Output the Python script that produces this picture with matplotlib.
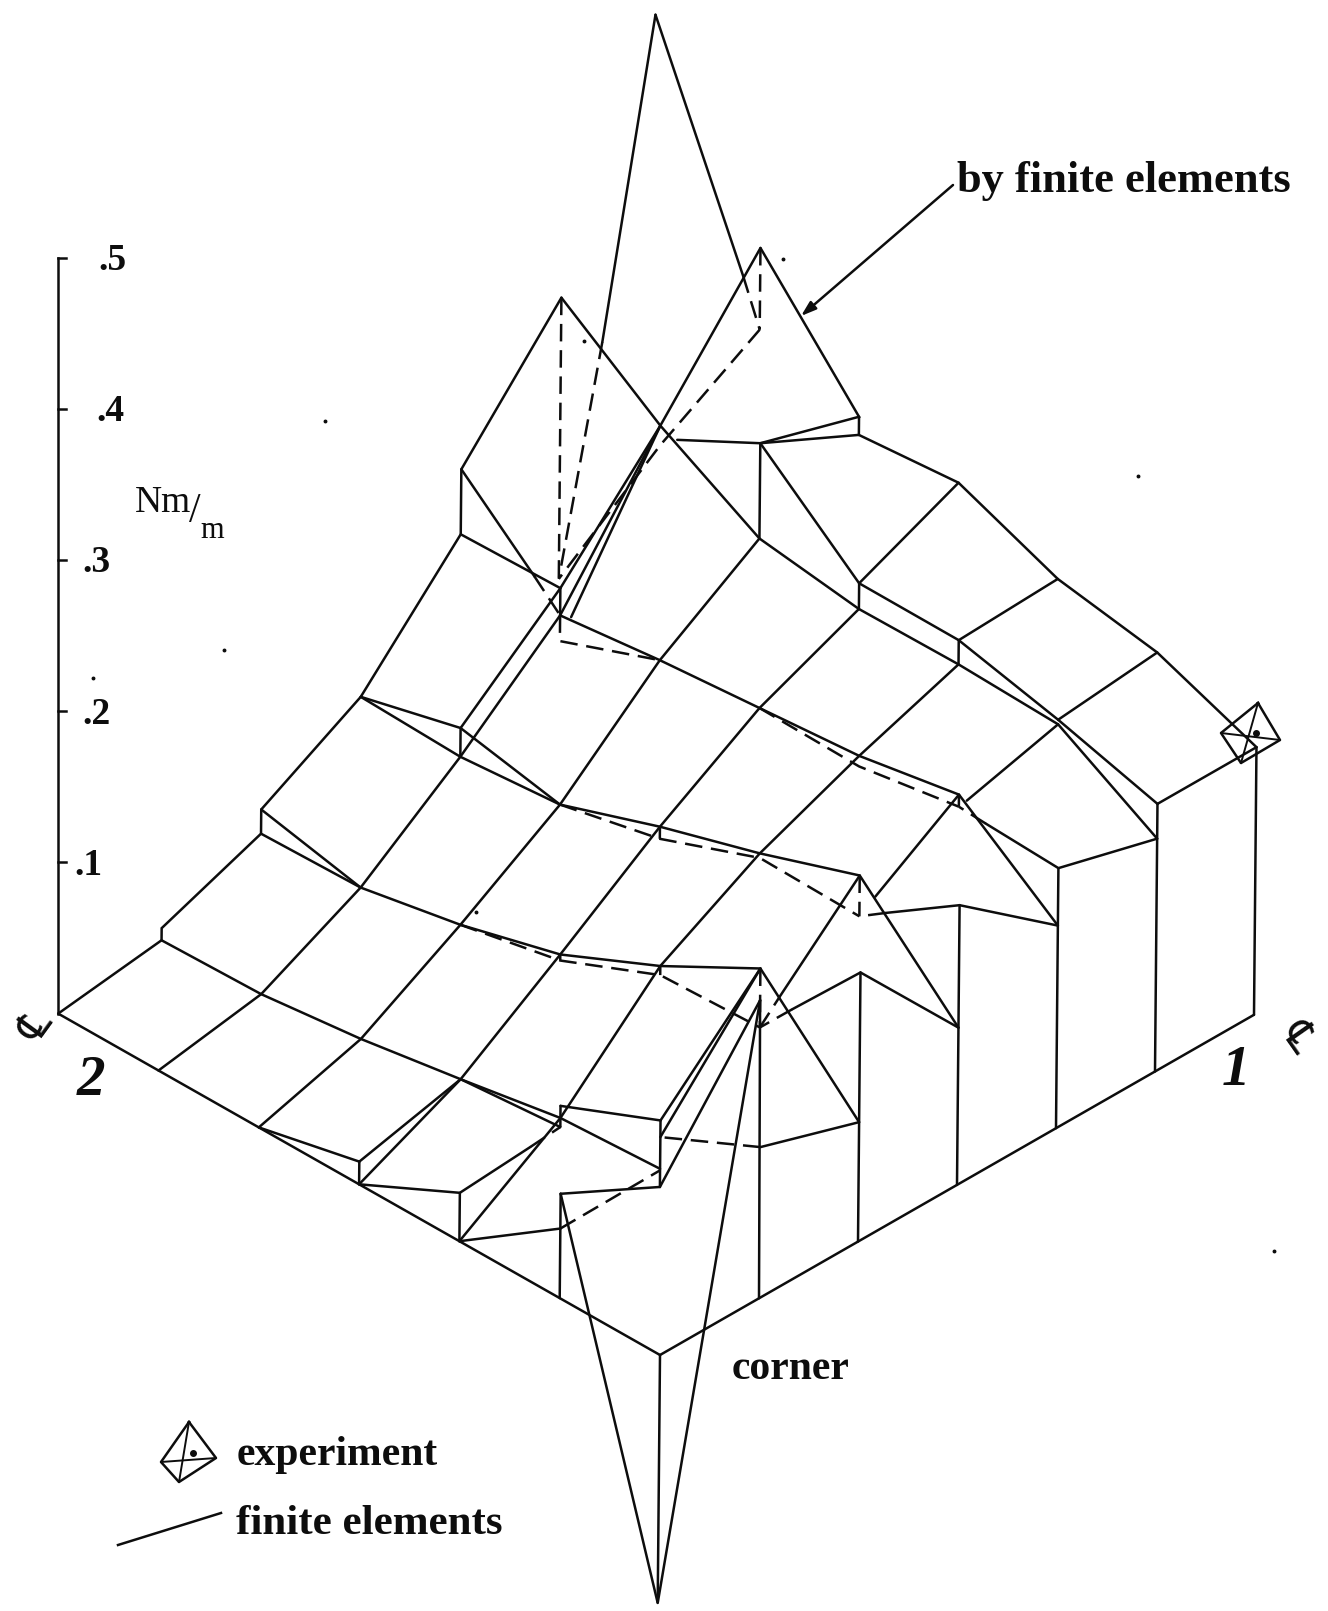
#!/usr/bin/env python3
"""Isometric wireframe of moment over a plate: finite elements vs experiment"""

import matplotlib
matplotlib.use("Agg")
import matplotlib.pyplot as plt

# every node is (i, j, z): grid position on the plate and moment in Nm/m
# i runs from the corner to the left, j from the corner to the right

# plate outline
plate_left = [(6, 0, 0), (5, 0, 0), (4, 0, 0), (3, 0, 0), (2, 0, 0), (1, 0, 0), (0, 0, 0)]
plate_right = [(0, 0, 0), (0, 1, 0), (0, 2, 0), (0, 3, 0), (0, 4, 0), (0, 5, 0), (0, 6, 0)]

# outer edges of the surface
edge_j0 = [(6, 0, 0), (6, 1, .011), (6, 1, .019), (6, 2, .044), (6, 2, .060), (6, 3, .097),
           (6, 4, .167), (6, 4, .210), (6, 5, .286)]
edge_j6 = [(0, 6, .177), (1, 6, .202), (2, 6, .213), (3, 6, .239), (4, 6, .233)]

# lines of constant i
i5_low = [(5, 0, 0), (5, 1, .013), (5, 2, .046), (5, 3, .095), (5, 4, .151), (5, 5, .239), (5, 6, .319)]
i5_up = [(5, 3, .114), (5, 4, .169), (5, 5, .239)]
i5_extra = [(4.89, 4, .154), (5, 5, .239)]
i4_low = [(4, 0, 0), (4, 1, .021), (4, 2, .059), (4, 3, .101), (4, 4, .159), (4, 5, .202)]
i4_a = [(5, 6, .319), (4, 6, .245), (4, 5, .265)]
i4_b = [(4, 6, .233), (4, 5, .265)]
i3_low = [(3, 0, .015), (3, 1, .032), (3, 2, .077), (3, 3, .124), (3, 4, .165), (3, 5, .193)]
i3_base = [(3, 0, 0), (3, 1, .032)]
i3_up = [(3, 5, .210), (3, 6, .239)]
i2_low = [(2, 0, 0), (2, 1, .044), (2, 2, .107), (2, 3, .144), (2, 4, .171), (2, 5, .194)]
i2_up = [(2, 5, .210), (2, 6, .213)]
i1_a = [(1, 1, .080), (1, 2, .143)]
i1_b = [(1, 1, .069), (1, 2, .143)]
i1_c = [(1, 0, .069), (1, 1, .036), (1, 2, .122)]
i1_d = [(1, 2.2, .117), (1, 3, .167)]
i1_e = [(1, 3.16, .147), (1, 4, .183)]
i1_f = [(1, 4.08, .176), (1, 5, .192)]
i1_g = [(1, 5, .195), (1, 6, .202)]
i0_a = [(0, 6, .177), (0, 5, .177)]
i0_b = [(0, 5, .154), (0, 4, .172), (.73, 4, .174)]
i0_c = [(0, 4, .134), (0, 3, .185), (.74, 3, .152)]
i0_d = [(0, 3, .104), (0, 2, .178), (.68, 2, .128)]
i0_e = [(0, 2, .079), (0, 1, .100)]

# lines of constant j
j0_a = [(4, 0, 0), (3, 0, .015)]
j0_b = [(3, 0, 0), (2, 0, .032), (2, .7, .036)]
j0_c = [(2, 0, 0), (1, 0, .046)]
j1_low = [(6, 1, .011), (5, 1, .013), (4, 1, .021), (3, 1, .032), (2, 1, .044), (1, 1, .048)]
j1_b = [(3, 1, .032), (2, 1, .038)]
j1_up = [(2, 1, .052), (1, 1, .080)]
j2_up = [(6, 2, .060), (5, 2, .046), (4, 2, .059), (3, 2, .077), (2, 2, .107), (1, 2, .143), (0, 2, .079)]
j2_low = [(6, 2, .044), (5, 2, .046)]
j3_up = [(6, 3, .097), (5, 3, .114), (4, 3, .101), (3, 3, .124), (2, 3, .144), (1, 3, .167), (0, 3, .104)]
j3_low = [(6, 3, .097), (5, 3, .095), (4, 3, .101)]
j4_a = [(6, 4, .167), (5, 4, .169)]
j4_b = [(6, 4, .210), (5.26, 4, .167)]
j4_low = [(5, 4, .151), (4, 4, .159), (3, 4, .165), (2, 4, .171), (1, 4, .183), (0, 4, .134)]
j5_low = [(6, 5, .286), (5, 5, .239), (4, 5, .202), (3, 5, .193), (2, 5, .194), (1, 5, .192), (0, 5, .154)]
j5_up = [(4.83, 5, .236), (4, 5, .265), (3, 5, .210), (2, 5, .210), (1, 5, .195), (0, 5, .177)]

# vertical steps and the columns along the right side
steps = [(5, 3, .095, .114), (5, 4, .151, .169), (4, 5, .202, .265), (4, 6, .233, .245),
         (3, 5, .193, .210), (2, 5, .194, .210), (2, 1, .044, .052), (1, 1, .036, .080),
         (3, 0, 0, .015), (2, 0, 0, .032), (1, 0, 0, .069),
         (0, 2, 0, .178), (0, 3, 0, .185), (0, 4, 0, .172), (0, 5, 0, .177), (0, 6, 0, .177),
         (0, 0, -.164, 0)]
col_j1 = [(0, 1, 0), (1, 2, .122)]

# spikes at the two corners on the diagonal
spike_front = [(1, 0, .069), (0, 0, -.164), (1, 2, .122)]
spike_back_a = [(6.07, 6, .433), (6, 5.42, .241)]
spike_back_b = [(6.07, 6, .433), (5.17, 6, .294)]

solid_lines = [plate_left, plate_right, edge_j0, edge_j6, i5_low, i5_up, i5_extra, i4_low, i4_a, i4_b,
               i3_low, i3_base, i3_up, i2_low, i2_up, i1_a, i1_b, i1_c, i1_d, i1_e, i1_f, i1_g,
               i0_a, i0_b, i0_c, i0_d, i0_e, j0_a, j0_b, j0_c, j1_low, j1_b, j1_up, j2_up, j2_low,
               j3_up, j3_low, j4_a, j4_b, j4_low, j5_low, j5_up, col_j1, spike_front, spike_back_a,
               spike_back_b]

# hidden part, drawn dashed
hid_j2 = [(4, 2, .059), (3, 2, .073), (2, 2, .101), (1, 2, .104)]
hid_j3 = [(4, 3, .101), (3, 3, .116), (2, 3, .141), (1, 3, .140)]
hid_j4 = [(3, 4, .165), (2, 4, .164), (1, 4, .175)]
hid_j4_left = [(5, 4, .151), (5, 4, .134), (4, 4, .159)]
hid_i5 = [(5, 6, .265), (5, 5, .226), (6, 5, .100)]
hid_back_a = [(6, 5.42, .241), (6, 5, .100)]
hid_back_b = [(5.17, 6, .294), (5, 6, .265)]
hid_peak_a = [(6, 5, .286), (6, 5, .100)]
hid_peak_b = [(5, 6, .319), (5, 6, .265)]
hid_j4_b = [(5.26, 4, .167), (5, 4, .151)]
hid_i0_b = [(.73, 4, .174), (1, 4, .175)]
hid_i0_c = [(.74, 3, .152), (1, 3, .140)]
hid_i0_d = [(.68, 2, .128), (1, 2, .104)]
hid_i0_e = [(0, 1, .100), (1, 1, .069)]
hid_i1_a = [(1, 0, .046), (1, 1, .047)]
hid_i1_b = [(1, 2, .104), (1, 2.2, .117)]
hid_i2 = [(2, .7, .036), (2, 1, .038)]
hid_tick_a = [(1, 2, .143), (1, 2, .104)]
hid_tick_b = [(1, 3, .167), (1, 3, .140)]
hid_tick_c = [(1, 4, .183), (1, 4, .175)]
hid_tick_d = [(2, 2, .107), (2, 2, .101)]
hid_tick_e = [(3, 3, .124), (3, 3, .116)]
hid_tick_f = [(3, 2, .077), (3, 2, .073)]
hid_tick_g = [(2, 1, .044), (2, 1, .038)]

dashed_lines = [hid_j2, hid_j3, hid_j4, hid_j4_left, hid_i5, hid_back_a, hid_back_b, hid_peak_a,
                hid_peak_b, hid_j4_b, hid_i0_b, hid_i0_c, hid_i0_d, hid_i0_e, hid_i1_a, hid_i1_b,
                hid_i2, hid_tick_a, hid_tick_b, hid_tick_c, hid_tick_d, hid_tick_e, hid_tick_f,
                hid_tick_g]

z_ticks = [.1, .2, .3, .4, .5]
z_tick_labels = ['.1', '.2', '.3', '.4', '.5']

# the octahedron marks: top, right, bottom, left, inner dot (pixels around the centre)
point_mark_x = [9, 31, -8, -28, 7]
point_mark_y = [-37, 0, 23, -7, -7]
legend_mark_x = [3, 30, -7, -25, 7]
legend_mark_y = [-37, -1, 23, 3, -6]

specks_x = [325, 224, 93, 1138, 1274, 476, 584, 783]
specks_y = [421, 650, 678, 476, 1251, 912, 341, 259]

INK = '#0d0d0d'
LW = 1.8
FONT = ['Liberation Serif', 'DejaVu Sans']


def project(i, j, z):
    """Isometric view of the plate, the drawing drifts a little to the right with height"""
    x = 660 + 99 * j - 100.3 * i + 14 * z + 0.7 * i * min(j, 1)
    y = 1355 - 56.9 * i - 56.7 * j - 1512 * z
    return x, y


def draw_line(ax, nodes, **kw):
    pts = [project(*n) for n in nodes]
    ax.plot([p[0] for p in pts], [p[1] for p in pts], color=INK, lw=LW,
            solid_capstyle='round', solid_joinstyle='miter', **kw)


def draw_mark(ax, cx, cy, off_x, off_y):
    xs = [cx + v for v in off_x]
    ys = [cy + v for v in off_y]
    ax.plot(xs[:4] + xs[:1], ys[:4] + ys[:1], color=INK, lw=LW)
    ax.plot([xs[0], xs[2]], [ys[0], ys[2]], color=INK, lw=1.4)
    ax.plot([xs[1], xs[3]], [ys[1], ys[3]], color=INK, lw=1.4)
    ax.plot(xs[4], ys[4], 'o', color=INK, ms=4)


def main():
    fig = plt.figure(figsize=(13.28, 16.11), dpi=100)
    ax = fig.add_axes([0, 0, 1, 1])
    ax.set_xlim(0, 1328)
    ax.set_ylim(1611, 0)
    ax.axis('off')

    for nodes in solid_lines:
        draw_line(ax, nodes)
    for i, j, z0, z1 in steps:
        draw_line(ax, [(i, j, z0), (i, j, z1)])
    for nodes in dashed_lines:
        draw_line(ax, nodes, linestyle=(0, (7, 3.5)))

    # moment axis at the left corner
    base_x, base_y = project(6, 0, 0)
    ax.plot([base_x, base_x], [base_y, base_y - 1512 * z_ticks[-1]], color=INK, lw=LW)
    label_x = [88, 96, 96, 110, 112]
    for z, lab, lx in zip(z_ticks, z_tick_labels, label_x):
        ty = base_y - 1512 * z
        ax.plot([base_x, base_x + 8], [ty, ty], color=INK, lw=LW)
        ax.text(lx, ty + 3, lab, fontsize=27, family=FONT, weight='bold', color=INK,
                ha='center', va='center')

    ax.text(135, 503, 'Nm', fontsize=27, family=FONT, color=INK, ha='left', va='center')
    ax.text(195, 512, '/', fontsize=30, family=FONT, color=INK, ha='center', va='center')
    ax.text(212, 530, 'm', fontsize=22, family=FONT, color=INK, ha='center', va='center')

    # plate side numbers and centre line signs
    ax.text(91, 1081, '2', fontsize=41, style='italic', weight='bold', family=FONT, color=INK,
            ha='center', va='center')
    ax.text(1236, 1071, '1', fontsize=41, style='italic', weight='bold', family=FONT, color=INK,
            ha='center', va='center')
    ax.text(36, 1027, '\u2104', fontsize=31, rotation=54, family=['DejaVu Sans'],
            color=INK, ha='center', va='center')
    ax.text(1299, 1036, '\u2104', fontsize=31, rotation=-55, family=['DejaVu Sans'],
            color=INK, ha='center', va='center')

    ax.text(791, 1369, 'corner', fontsize=30, family=FONT, weight='bold', color=INK,
            ha='center', va='center')
    ax.text(1124, 181, 'by finite elements', fontsize=32, family=FONT, weight='bold', color=INK,
            ha='center', va='center')
    ax.annotate('', xy=(801, 316), xytext=(953, 185),
                arrowprops=dict(arrowstyle='-|>,head_length=0.9,head_width=0.3', color=INK, lw=LW,
                                shrinkA=0, shrinkB=0))

    # mark on the surface and legend
    draw_mark(ax, 1249, 740, point_mark_x, point_mark_y)
    draw_mark(ax, 186, 1459, legend_mark_x, legend_mark_y)
    ax.text(337, 1455, 'experiment', fontsize=30, family=FONT, weight='bold', color=INK,
            ha='center', va='center')
    ax.text(369, 1524, 'finite elements', fontsize=31, family=FONT, weight='bold', color=INK,
            ha='center', va='center')
    ax.plot([118, 221], [1545, 1513], color=INK, lw=LW)

    ax.plot(specks_x, specks_y, 'o', color=INK, ms=1.8, linestyle='none')

    fig.savefig('out.png', dpi=100, facecolor='white')


if __name__ == "__main__":
    main()
